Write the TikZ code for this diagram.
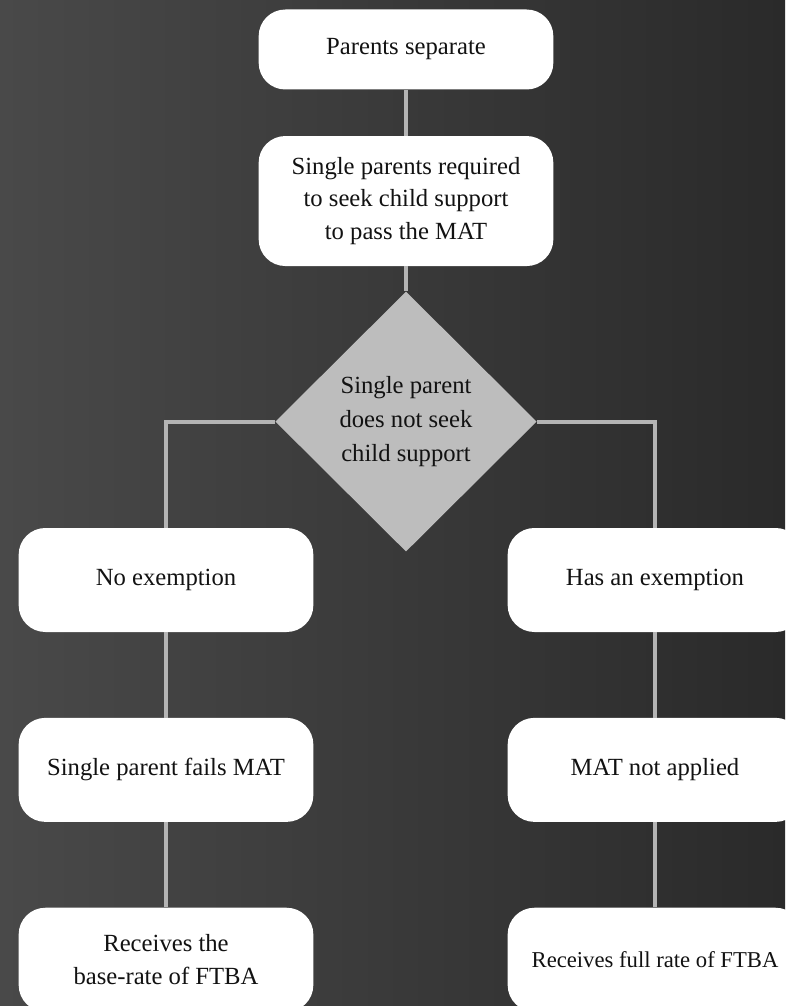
\documentclass[tikz,border=0pt]{standalone}
\usepackage{fontspec}
\setmainfont{Liberation Serif}
\usepackage{tikz}
\usetikzlibrary{positioning, shapes.geometric}
\definecolor{bgleft}{HTML}{494949}
\definecolor{bgright}{HTML}{2A2A2A}
\definecolor{linkgray}{HTML}{B4B4B4}
\definecolor{diagray}{HTML}{BDBDBD}
\definecolor{inkdark}{HTML}{121212}

\begin{document}
\begin{tikzpicture}[x=0.75pt, y=-0.75pt,
    box/.style={draw=none, fill=white, rectangle, rounded corners=20pt, minimum width=221pt, minimum height=78pt, align=center, text=inkdark, font=\fontsize{18.5}{24.5}\selectfont},
    decision/.style={diamond, fill=diagray, minimum width=196pt, minimum height=195pt, inner sep=0pt, align=center, text=inkdark, font=\fontsize{18.5}{25.5}\selectfont},
    link/.style={draw=linkgray, line width=3pt}]
    \shade[left color=bgleft, right color=bgright] (0,0) rectangle (785,1006);
    \useasboundingbox (0,0) rectangle (785,1006);

    \node[box, minimum height=60pt] (sep) at (406,49.5) {Parents separate};
    \node[box, minimum height=97.5pt, below=34.5pt of sep] (req) {Single parents required\\to seek child support\\to pass the MAT};
    \node[decision, below=18.75pt of req] (noseek) {Single parent\\does not seek\\child support};

    \node[box] (noex) at (166,580) {No exemption};
    \node[box] (hasex) at (655,580) {Has an exemption};
    \node[box, below=64pt of noex] (fails) {Single parent fails MAT};
    \node[box, below=64pt of hasex] (notapp) {MAT not applied};
    \node[box, below=64pt of fails] (base) {Receives the\\base-rate of FTBA};
    \node[box, below=64pt of notapp, font=\fontsize{17}{24}\selectfont] (full) {Receives full rate of FTBA};

    \draw[link] (sep) -- (req);
    \draw[link] (req) -- (noseek);
    \draw[link] (noseek.west) -| (noex);
    \draw[link] (noseek.east) -| (hasex);
    \draw[link] (noex) -- (fails);
    \draw[link] (fails) -- (base);
    \draw[link] (hasex) -- (notapp);
    \draw[link] (notapp) -- (full);
\end{tikzpicture}
\end{document}
